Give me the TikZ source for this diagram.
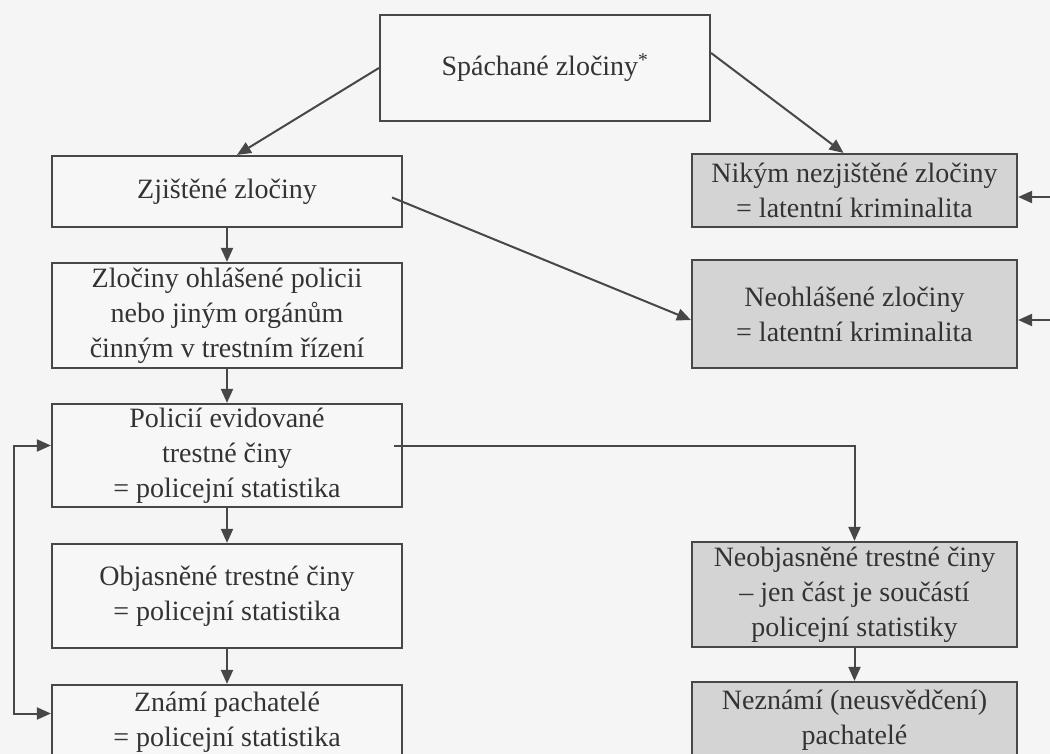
\documentclass[tikz,border=0pt]{standalone}
\usepackage{fontspec}
\setmainfont{Liberation Serif}
\usetikzlibrary{arrows.meta}

\begin{document}
\begin{tikzpicture}[x=1pt, y=-1pt, >={Triangle[length=14pt,width=12pt]},
		box/.style={draw=black!72, line width=2.2pt, fill=white!97!black, text=black!80, align=center, inner sep=2pt, font=\fontsize{28}{35}\selectfont},
		latent/.style={box, fill=black!17},
		arr/.style={draw=black!72, line width=2pt, ->}]
		\fill [white!96!black] (0,0) rectangle (1050,754);
		\useasboundingbox (0,0) rectangle (1050,754);
		\clip (0,0) rectangle (1050,754);
		% top
		\node [box, minimum width=330pt, minimum height=106pt] (spach) at (545,68) {Sp\'achan\'e zlo\v{c}iny\textsuperscript{*}};
		% left column
		\node [box, minimum width=350pt, minimum height=71pt] (zjist) at (227,191.5) {Zjištěné zločiny};
		\node [box, minimum width=350pt, minimum height=105pt] (ohlas) at (227,315.5) {Zločiny ohlášené policii\\nebo jiným orgánům\\činným v trestním řízení};
		\node [box, minimum width=350pt, minimum height=103pt] (polic) at (227,455.5) {Policií evidované\\trestné činy\\= policejní statistika};
		\node [box, minimum width=350pt, minimum height=104pt] (objas) at (227,596) {Objasněné trestné činy\\= policejní statistika};
		\node [box, minimum width=350pt, minimum height=75pt] (znami) at (227,722.5) {Známí pachatelé\\= policejní statistika};
		% right column
		\node [latent, minimum width=325pt, minimum height=73pt] (nikym) at (854.5,190.5) {Nikým nezjištěné zločiny\\= latentní kriminalita};
		\node [latent, minimum width=325pt, minimum height=108pt] (neohl) at (854.5,314) {Neohlášené zločiny\\= latentní kriminalita};
		\node [latent, minimum width=325pt, minimum height=105pt] (neobj) at (854.5,594.5) {Neobjasněné trestné činy\\-- jen část je součástí\\policejní statistiky};
		\node [latent, minimum width=325pt, minimum height=76pt] (nezna) at (854.5,720) {Neznámí (neusvědčení)\\pachatelé};
		\draw [arr] (spach.west) -- ([xshift=10]zjist.north);
		\draw [arr] ([yshift=15]spach.east) -- ([xshift=-11]nikym.north);
		\draw [arr] ([xshift=-11,yshift=-6]zjist.east) -- ([yshift=-6]neohl.west);
		\foreach \a/\b in {zjist/ohlas, ohlas/polic, polic/objas, objas/znami, neobj/nezna} {
			\draw [arr] (\a.south) -- (\b.north);
		}
		\draw [arr] ([xshift=-9,yshift=10]polic.east) -| (neobj.north);
		\draw [arr, <->] ([yshift=10]polic.west) -- ++(-37,0) |- ([yshift=9]znami.west);
		% arrows coming in from the right
		\coordinate (in1) at (1050,197);
		\coordinate (in2) at (1050,320);
		\draw [arr] (in1) -- (nikym.east |- in1);
		\draw [arr] (in2) -- (neohl.east |- in2);
	\end{tikzpicture}
\end{document}
